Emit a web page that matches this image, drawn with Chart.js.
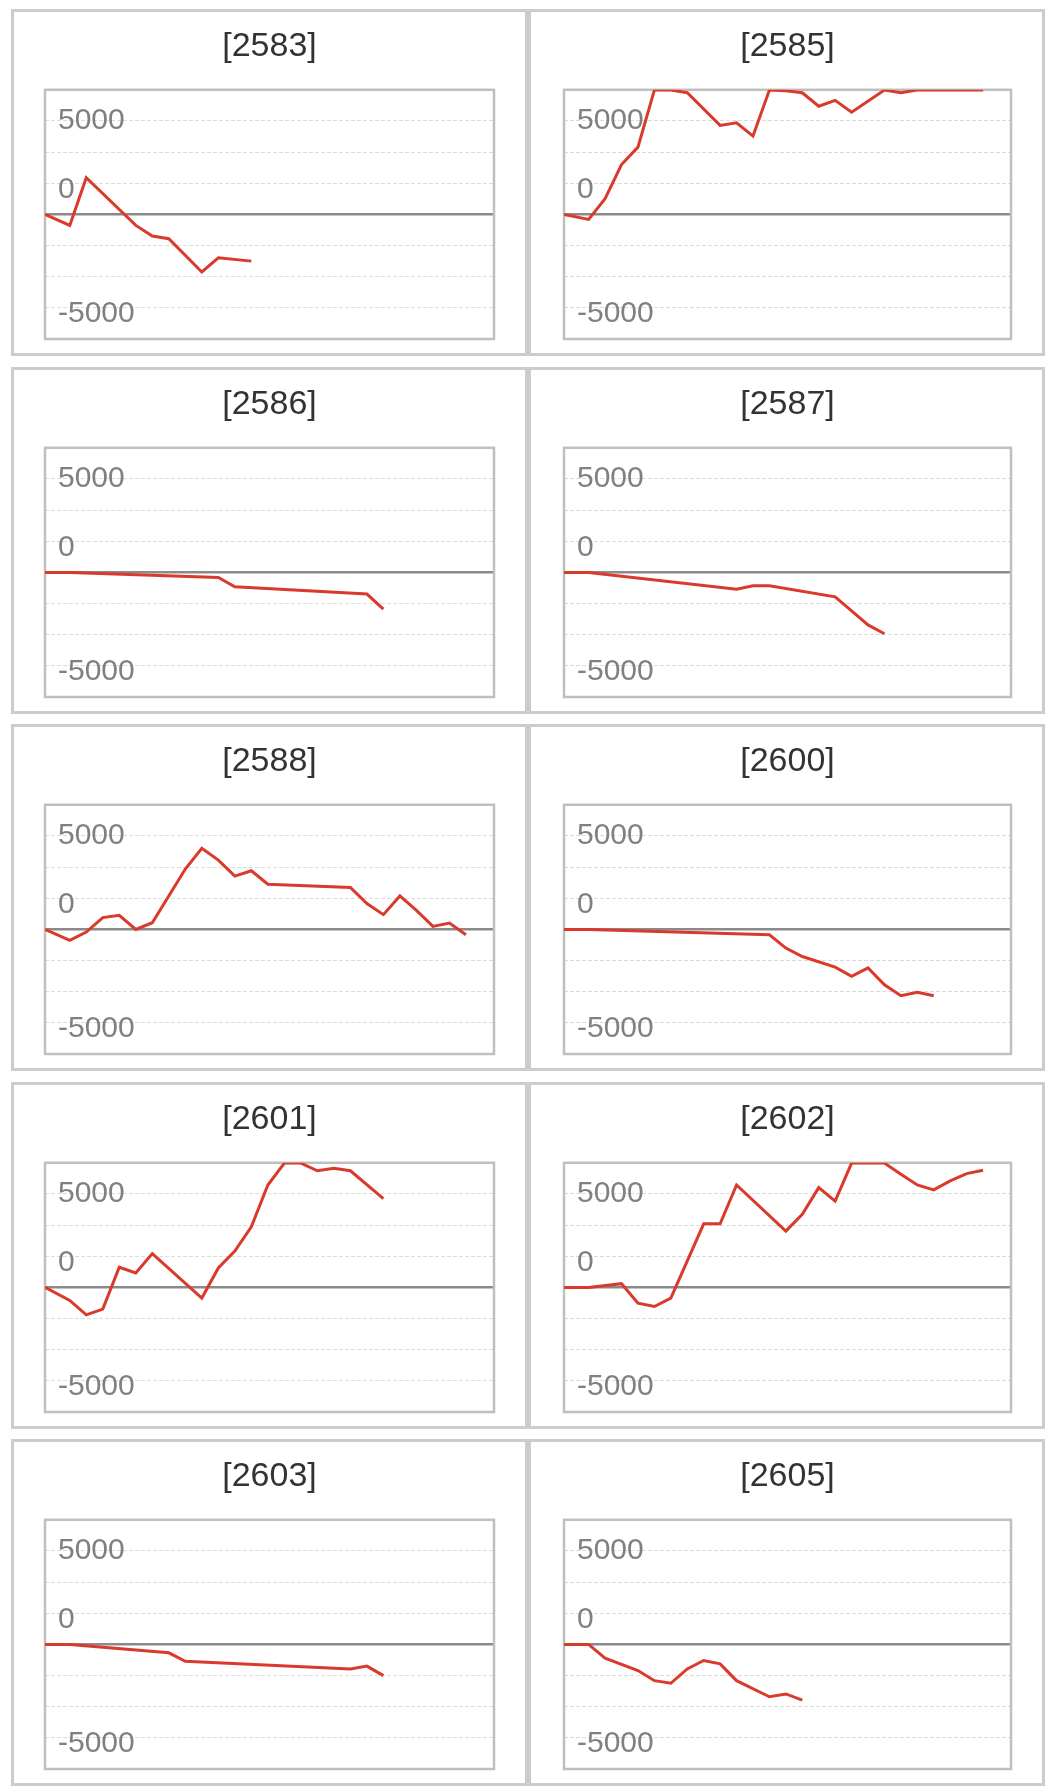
<!DOCTYPE html>
<html>
<head>
<meta charset="utf-8">
<script src="https://cdn.jsdelivr.net/npm/chart.js@4.4.1/dist/chart.umd.min.js"></script>
<style>
  html, body { margin: 0; padding: 0; background: #fff; }
  body { width: 1061px; height: 1792px; position: relative; overflow: hidden; }
  .grid {
    position: absolute; left: 11px; top: 9px;
    display: grid;
    grid-template-columns: 517px 517px;
    grid-auto-rows: 347px;
    row-gap: 10.5px;
  }
  .panel { border: 3px solid #cccccc; box-sizing: border-box; width: 517px; height: 347px; }
  .panel canvas { display: block; }
</style>
</head>
<body>
<div class="grid" id="grid"></div>
<script>
// one small series per code: x = trading day index, y = running P/L
const titles = ['[2583]', '[2585]', '[2586]', '[2587]', '[2588]', '[2600]', '[2601]', '[2602]', '[2603]', '[2605]'];

const days_2583 = [0, 1.5, 2.5, 5.5, 6.5, 7.5, 9.5, 10.5, 12.5];
const pnl_2583  = [0, -590, 1960, -590, -1160, -1300, -3080, -2320, -2500];

const days_2585 = [0, 1.5, 2.5, 3.5, 4.5, 5.5, 6.5, 7.5, 9.5, 10.5, 11.5, 12.5, 13.5, 14.5, 15.5, 16.5, 17.5, 19.5, 20.5, 21.5, 25.5];
const pnl_2585  = [0, -270, 840, 2670, 3600, 6650, 6650, 6510, 4760, 4900, 4190, 6650, 6620, 6510, 5790, 6100, 5470, 6650, 6510, 6650, 6650];

const days_2586 = [0, 1.5, 10.5, 11.5, 19.5, 20.5];
const pnl_2586  = [0, 0, -270, -770, -1160, -1970];

const days_2587 = [0, 1.5, 10.5, 11.5, 12.5, 16.5, 17.5, 18.5, 19.5];
const pnl_2587  = [0, 0, -900, -720, -720, -1310, -2060, -2810, -3280];

const days_2588 = [0, 1.5, 2.5, 3.5, 4.5, 5.5, 6.5, 8.5, 9.5, 10.5, 11.5, 12.5, 13.5, 18.5, 19.5, 20.5, 21.5, 22.5, 23.5, 24.5, 25.5];
const pnl_2588  = [0, -590, -140, 630, 750, 0, 360, 3230, 4340, 3710, 2850, 3140, 2420, 2240, 1380, 790, 1790, 1020, 160, 340, -290];

const days_2600 = [0, 1.5, 12.5, 13.5, 14.5, 16.5, 17.5, 18.5, 19.5, 20.5, 21.5, 22.5];
const pnl_2600  = [0, 0, -290, -1000, -1450, -2020, -2510, -2060, -2960, -3550, -3370, -3550];

const days_2601 = [0, 1.5, 2.5, 3.5, 4.5, 5.5, 6.5, 9.5, 10.5, 11.5, 12.5, 13.5, 14.5, 15.5, 16.5, 17.5, 18.5, 20.5];
const pnl_2601  = [0, -700, -1470, -1160, 1080, 770, 1810, -570, 1040, 1940, 3240, 5480, 6650, 6650, 6240, 6380, 6240, 4750];

const days_2602 = [0, 1.5, 3.5, 4.5, 5.5, 6.5, 8.5, 9.5, 10.5, 13.5, 14.5, 15.5, 16.5, 17.5, 19.5, 20.5, 21.5, 22.5, 23.5, 24.5, 25.5];
const pnl_2602  = [0, 0, 200, -840, -1020, -570, 3400, 3400, 5480, 3010, 3910, 5340, 4620, 6650, 6650, 6060, 5480, 5220, 5700, 6090, 6270];

const days_2603 = [0, 1.5, 7.5, 8.5, 18.5, 19.5, 20.5];
const pnl_2603  = [0, 0, -450, -900, -1310, -1160, -1670];

const days_2605 = [0, 1.5, 2.5, 4.5, 5.5, 6.5, 7.5, 8.5, 9.5, 10.5, 12.5, 13.5, 14.5];
const pnl_2605  = [0, 0, -735, -1400, -1940, -2080, -1310, -860, -1040, -1940, -2800, -2650, -2980];

const allDays = [days_2583, days_2585, days_2586, days_2587, days_2588, days_2600, days_2601, days_2602, days_2603, days_2605];
const allPnl  = [pnl_2583, pnl_2585, pnl_2586, pnl_2587, pnl_2588, pnl_2600, pnl_2601, pnl_2602, pnl_2603, pnl_2605];

// y grid: 9 lines, bottom to top
const yStep = 5000 / 3;
const yGridValues = [-4, -3, -2, -1, 0, 1, 2, 3, 4].map(k => k * yStep);
// the three labels printed inside the plot, and the grid line each sits on
const yLabelTexts = ['-5000', '0', '5000'];
const yLabelGrid  = [-3, 1, 3];
const yLabelNudge = [-6, -6, 0];   // px, + moves up
const xMax = 27.2;

const FONT = "'Liberation Sans', Arial, Helvetica, sans-serif";

// light frame around the plot area (drawn under the line)
const framePlugin = {
  id: 'frame',
  beforeDatasetsDraw(chart){
    const a = chart.chartArea, c = chart.ctx;
    c.save();
    c.strokeStyle = '#bfbfbf';
    c.lineWidth = 2.5;
    c.strokeRect(a.left, a.top, a.right - a.left, a.bottom - a.top);
    c.restore();
  }
};

const noRoom = s => {
  s.width = 0;
  s.paddingTop = 0; s.paddingBottom = 0;
  s.paddingLeft = 0; s.paddingRight = 0;
};

const grid = document.getElementById('grid');
const gridPx = 249 / 8;   // height of one grid band

titles.forEach((title, i) => {
  const panel = document.createElement('div');
  panel.className = 'panel';
  const cv = document.createElement('canvas');
  cv.width = 511; cv.height = 341;
  cv.style.width = '511px'; cv.style.height = '341px';
  panel.appendChild(cv);
  grid.appendChild(panel);

  const pts = allDays[i].map((d, j) => ({ x: d, y: allPnl[i][j] }));
  const leftCol = i % 2 === 0;

  new Chart(cv.getContext('2d'), {
    type: 'line',
    data: {
      datasets: [{
        data: pts,
        borderColor: '#d93a2b',
        borderWidth: 3,
        pointRadius: 0,
        tension: 0,
        fill: false
      }]
    },
    options: {
      responsive: false,
      animation: false,
      devicePixelRatio: 1,
      layout: { padding: { top: 0, left: leftCol ? 31 : 33, right: 31, bottom: 14 } },
      plugins: {
        legend: { display: false },
        tooltip: { enabled: false },
        title: {
          display: true,
          text: title,
          color: '#333333',
          font: { family: FONT, size: 34, weight: 'normal', lineHeight: 1.2 },
          padding: { top: 14, bottom: 23 }
        }
      },
      scales: {
        x: { type: 'linear', min: 0, max: xMax, display: false },
        y: {
          type: 'linear',
          min: -4 * yStep,
          max: 4 * yStep,
          afterBuildTicks: s => { s.ticks = yGridValues.map(v => ({ value: v })); },
          afterFit: noRoom,
          grid: {
            drawTicks: false,
            color: c => {
              const v = c.tick ? c.tick.value : 0;
              if (Math.abs(v) > 3.5 * yStep) return 'rgba(0,0,0,0)';
              return Math.abs(v) < 1 ? '#8a8a8a' : '#dcdcdc';
            },
            lineWidth: c => (c.tick && Math.abs(c.tick.value) < 1) ? 2.5 : 1
          },
          border: {
            display: false,
            dash: c => (c.tick && Math.abs(c.tick.value) >= 1) ? [4, 2] : []
          },
          ticks: { display: false, autoSkip: false }
        },
        yl: {
          type: 'linear',
          position: 'left',
          min: -4 * yStep,
          max: 4 * yStep,
          afterBuildTicks: s => {
            s.ticks = yLabelGrid.map((k, j) => ({ value: (k + yLabelNudge[j] / gridPx) * yStep }));
          },
          afterFit: noRoom,
          grid: { display: false, drawTicks: false },
          border: { display: false },
          ticks: {
            autoSkip: false,
            mirror: true,
            padding: 13,
            color: '#808080',
            font: { family: FONT, size: 30 },
            callback: (v, idx) => yLabelTexts[idx]
          }
        }
      }
    },
    plugins: [framePlugin]
  });
});
</script>
</body>
</html>
